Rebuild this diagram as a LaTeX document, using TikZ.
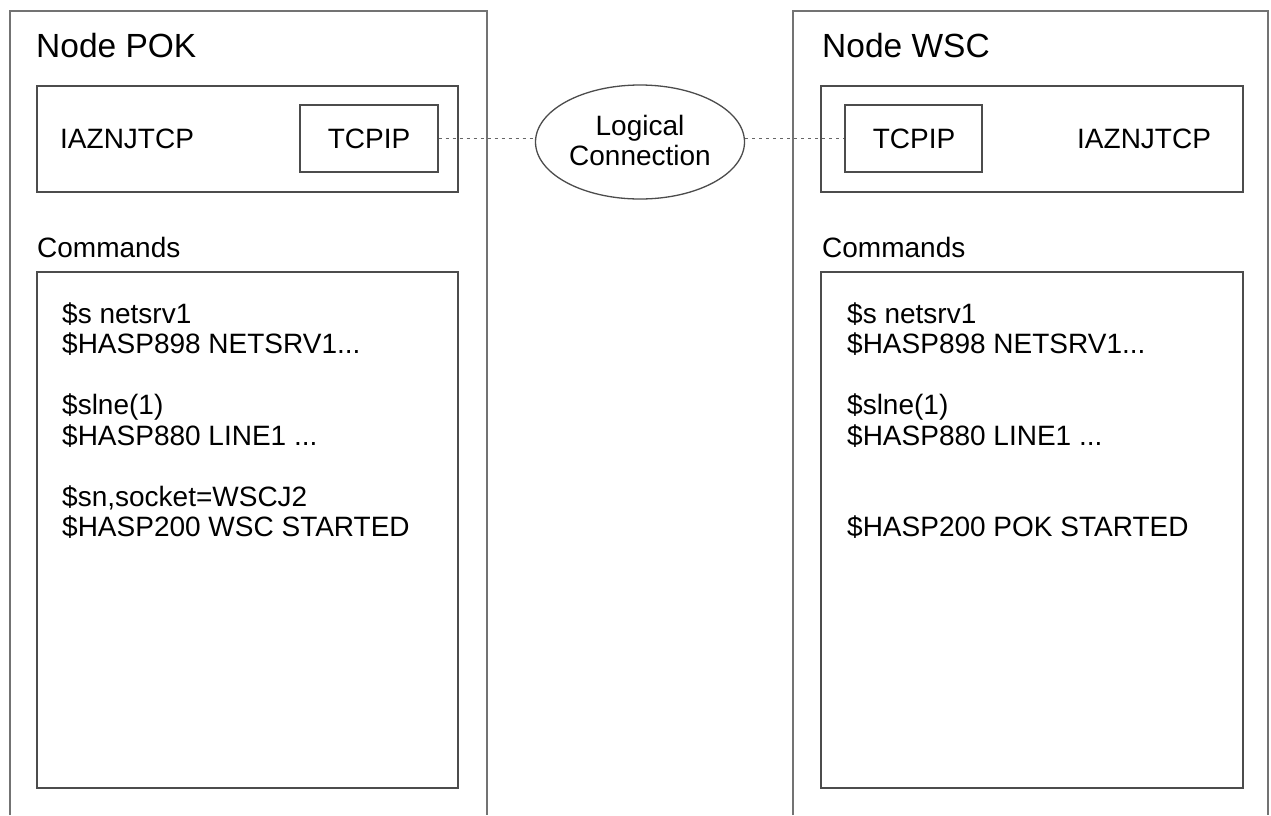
\documentclass[tikz,border=0pt]{standalone}
\usepackage{fontspec}
\setmainfont{Liberation Sans}
\usetikzlibrary{shapes.geometric}
\begin{document}
\begin{tikzpicture}[x=1pt,y=-1pt,
  frame/.style={draw=black!55,line width=1.3pt},
  boxed/.style={draw=black!70,line width=1.3pt,rectangle,inner sep=0pt},
  title/.style={anchor=base west,inner sep=0pt,font=\fontsize{33.5}{36}\selectfont},
  txt/.style={anchor=base west,inner sep=0pt,font=\fontsize{28}{30}\selectfont},
  ctxt/.style={anchor=base,inner sep=0pt,font=\fontsize{28}{30}\selectfont},
  link/.style={draw=black!60,line width=1.3pt,dash pattern=on 3pt off 4pt}]
\useasboundingbox (0,0) rectangle (1271,815);
\fill[white] (0,0) rectangle (1271,815);
% outer frames (open at bottom)
\draw[frame] (10,815) -- (10,11) -- (487,11) -- (487,815);
\draw[frame] (793,815) -- (793,11) -- (1268,11) -- (1268,815);
% left node
\node[title] (pokTitle) at (36,57) {Node POK};
\node[boxed,minimum width=421pt,minimum height=106pt] (pokProg) at (247.5,139) {};
\node[txt] (pokName) at (60,148) {IAZNJTCP};
\node[boxed,minimum width=138pt,minimum height=67pt] (pokTcp) at (369,138.5) {};
\node[ctxt] (pokTcpT) at (369,148) {TCPIP};
\node[txt] (pokCmdLbl) at (37,257) {Commands};
\node[boxed,minimum width=421pt,minimum height=516pt] (pokCmd) at (247.5,530) {};
\node[txt] (pokL1) at (62,323) {\$s netsrv1};
\node[txt] (pokL2) at (62,353.5) {\$HASP898 NETSRV1...};
\node[txt] (pokL3) at (62,414.5) {\$slne(1)};
\node[txt] (pokL4) at (62,445) {\$HASP880 LINE1 ...};
\node[txt] (pokL5) at (62,506) {\$sn,socket=WSCJ2};
\node[txt] (pokL6) at (62,536.5) {\$HASP200 WSC STARTED};
% right node
\node[title] (wscTitle) at (822,57) {Node WSC};
\node[boxed,minimum width=422pt,minimum height=106pt] (wscProg) at (1032,139) {};
\node[txt] (wscName) at (1077,148) {IAZNJTCP};
\node[boxed,minimum width=137pt,minimum height=67pt] (wscTcp) at (913.5,138.5) {};
\node[ctxt] (wscTcpT) at (914,148) {TCPIP};
\node[txt] (wscCmdLbl) at (822,257) {Commands};
\node[boxed,minimum width=422pt,minimum height=516pt] (wscCmd) at (1032,530) {};
\node[txt] (wscL1) at (847,323) {\$s netsrv1};
\node[txt] (wscL2) at (847,353.5) {\$HASP898 NETSRV1...};
\node[txt] (wscL3) at (847,414.5) {\$slne(1)};
\node[txt] (wscL4) at (847,445) {\$HASP880 LINE1 ...};
\node[txt] (wscL6) at (847,536.5) {\$HASP200 POK STARTED};
% logical connection
\node[ellipse,draw=black!70,line width=1.3pt,minimum width=209pt,minimum height=114pt,inner sep=0pt] (logic) at (640,142) {};
\node[ctxt] (logicT1) at (640,135) {Logical};
\node[ctxt] (logicT2) at (640,165) {Connection};
\draw[link] (pokTcp.east) -- (pokTcp.east -| logic.west);
\draw[link] (wscTcp.west -| logic.east) -- (wscTcp.west);
\end{tikzpicture}
\end{document}
